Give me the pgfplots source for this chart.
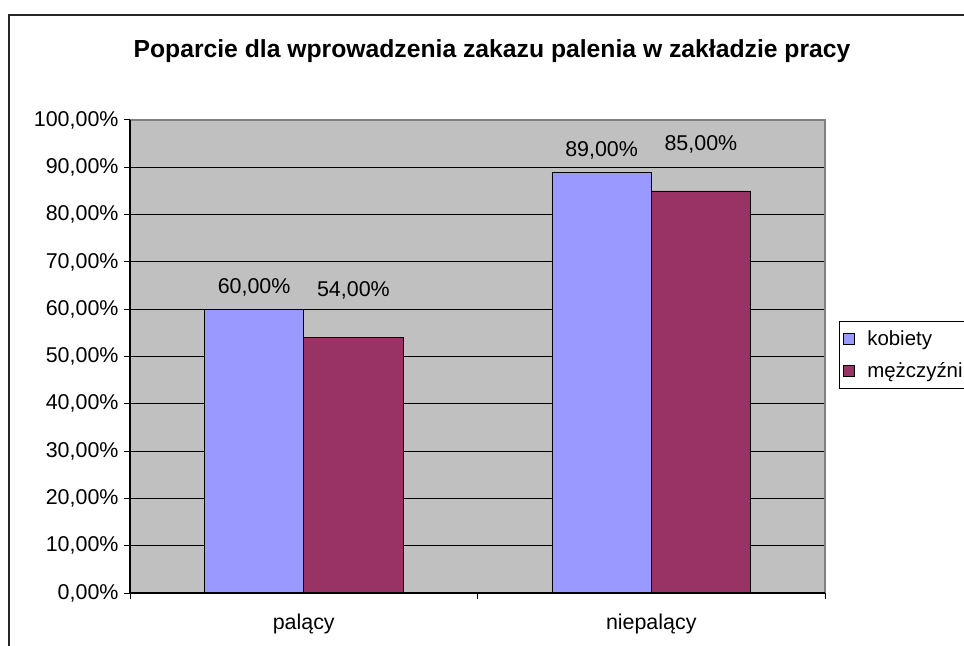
\documentclass[border=0pt]{standalone}
\usepackage{pgfplots}
\pgfplotsset{compat=1.18}
\usepackage{fontspec}
\setmainfont{Liberation Sans}
\definecolor{kob}{HTML}{9999FF}
\definecolor{mez}{HTML}{993366}
\definecolor{plotbg}{HTML}{C0C0C0}
\definecolor{bordergray}{HTML}{808080}
\pgfkeys{/pgf/number format/assume math mode=true}
\begin{document}
\begin{tikzpicture}
\useasboundingbox (0,0) rectangle (964bp,646bp);
\clip (0,0) rectangle (964bp,646bp);
\draw[line width=1.5bp, black!85] (9bp,631bp) rectangle (1000bp,-20bp);
\node[anchor=base, font=\fontsize{24.8}{29}\selectfont\bfseries] at (492bp,588.7bp) {Poparcie dla wprowadzenia zakazu palenia w zakładzie pracy};
\begin{axis}[
  at={(130bp,53bp)}, anchor=south west,
  scale only axis, width=695bp, height=473bp,
  xmin=0, xmax=2, ymin=0, ymax=100,
  ybar=0pt, bar width=0.285714,
  axis background/.style={fill=plotbg},
  axis line style={draw=none},
  tick align=outside,
  xtick pos=bottom, ytick pos=left,
  xtick={0,1,2}, xticklabels={},
  extra x ticks={0.5,1.5},
  extra x tick labels={palący,niepalący},
  extra x tick style={major tick length=0pt, xticklabel style={anchor=base, yshift=-36bp}},
  ytick={0,10,...,100},
  ymajorgrids,
  major grid style={black, line width=1bp},
  tick style={black, line width=1bp},
  major tick length=6bp,
  yticklabel={\pgfmathprintnumber[fixed,fixed zerofill,precision=2,use comma]{\tick}\%},
  yticklabel style={xshift=-2bp},
  ticklabel style={font=\fontsize{21.5}{26}\selectfont},
  legend style={at={(1,0.575)}, anchor=north west, xshift=14bp, draw=black, line width=1bp,
    fill=white, font=\fontsize{20.5}{25}\selectfont, inner xsep=3bp, inner ysep=7.5bp,
    row sep=11bp, column sep=11bp, nodes={inner sep=2bp}},
  legend cell align=left,
  nodes near coords={\pgfmathprintnumber[fixed,fixed zerofill,precision=2,use comma]{\pgfplotspointmeta}\%},
  every node near coord/.append style={anchor=center, font=\fontsize{21.5}{26}\selectfont, black},
  after end axis/.code={
    \draw[bordergray, line width=1.5bp] (rel axis cs:0,1) -- (rel axis cs:1,1) -- (rel axis cs:1,0);
    \draw[black, line width=1.2bp] (rel axis cs:0,1) -- (rel axis cs:0,0) -- (rel axis cs:1,0);
  },
]
\addplot[fill=kob, draw=black, line width=0.8bp, bar shift=-0.142857,
  every node near coord/.append style={yshift=22bp},
  legend image code/.code={\draw[fill=kob, draw=black, line width=0.8bp] (0bp,-5.5bp) rectangle (11bp,5.5bp);}]
  coordinates {(0.5,60) (1.5,89)};
\addplot[fill=mez, draw=black, line width=0.8bp, bar shift=0.142857,
  every node near coord/.append style={yshift=47bp},
  legend image code/.code={\draw[fill=mez, draw=black, line width=0.8bp] (0bp,-5.5bp) rectangle (11bp,5.5bp);}]
  coordinates {(0.5,54) (1.5,85)};
\legend{kobiety, mężczyźni}
\end{axis}
\end{tikzpicture}
\end{document}
